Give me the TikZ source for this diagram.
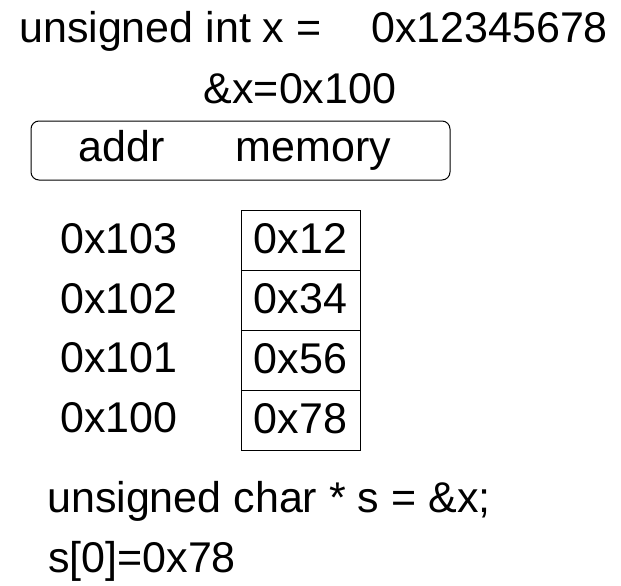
\documentclass[tikz,border=0pt]{standalone}
\usepackage{fontspec}
\setmainfont{Liberation Sans}
\begin{document}
\begin{tikzpicture}[x=1pt,y=-1pt,
  txt/.style={inner sep=0pt,anchor=base west,font=\fontsize{43}{48}\selectfont},
  ctxt/.style={inner sep=0pt,anchor=base,font=\fontsize{43}{48}\selectfont},
  cell/.style={draw,line width=1pt,minimum width=119pt,minimum height=60pt,inner sep=0pt,
    text height=27pt,text depth=2pt,font=\fontsize{43}{48}\selectfont},
  hdrbox/.style={draw,line width=1pt,rounded corners=8pt}]
\useasboundingbox (0,0) rectangle (621,586);
\node[txt] (decl) at (19,43) {unsigned int x =};
\node[txt] (val) at (371,43) {0x12345678};
\node[ctxt] (addrx) at (300,103) {\&x=0x100};
\node[hdrbox,minimum width=419pt,minimum height=59pt,inner sep=0pt] (hdr) at (240.5,150.5) {};
\node[ctxt] (haddr) at (121.5,161) {addr};
\node[ctxt] (hmem) at (313.5,161) {memory};
\node[txt] (a3) at (60,253) {0x103};
\node[txt] (a2) at (60,313) {0x102};
\node[txt] (a1) at (60,372) {0x101};
\node[txt] (a0) at (60,432) {0x100};
\node[cell] (m3) at (300.5,240.5) {0x12};
\node[cell] (m2) at (300.5,300.5) {0x34};
\node[cell] (m1) at (300.5,360.5) {0x56};
\node[cell] (m0) at (300.5,420.5) {0x78};
\node[txt] (ptr) at (47,512) {unsigned char * s = \&x;};
\node[txt] (res) at (48,572) {s[0]=0x78};
\end{tikzpicture}
\end{document}
